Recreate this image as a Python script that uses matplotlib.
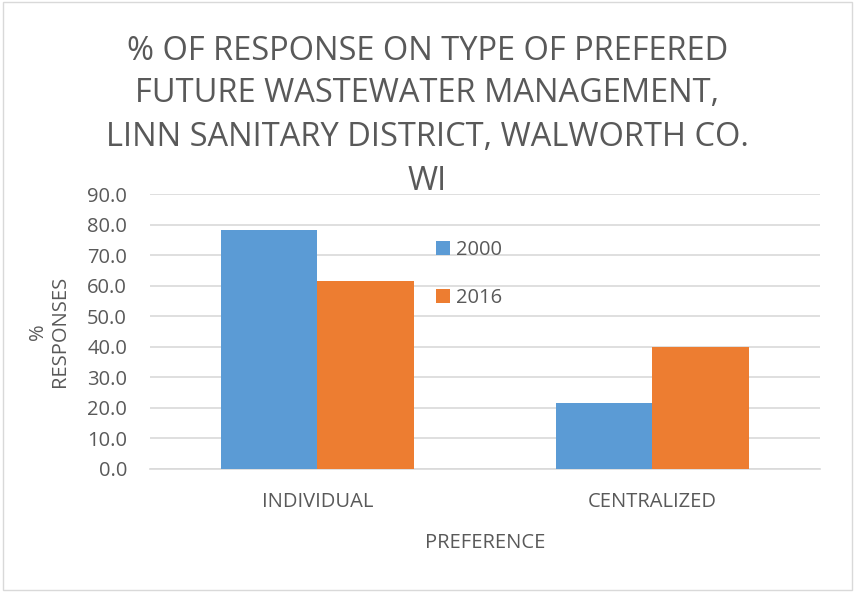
import matplotlib
matplotlib.use("Agg")
import matplotlib.pyplot as plt
import numpy as np
from matplotlib.patches import Rectangle

categories = ["INDIVIDUAL", "CENTRALIZED"]
series_names = ["2000", "2016"]
values_2000 = [78.4, 21.6]
values_2016 = [61.4, 40.0]
yticks = [0, 10, 20, 30, 40, 50, 60, 70, 80, 90]

title_lines = ["% OF RESPONSE ON TYPE OF PREFERED",
               "FUTURE WASTEWATER MANAGEMENT,",
               "LINN SANITARY DISTRICT, WALWORTH CO.",
               "WI"]

plt.rcParams['font.family'] = ['Open Sans', 'DejaVu Sans']
gray = "#595959"
fs = 14.5

fig = plt.figure(figsize=(8.55, 5.92), dpi=100)
fig.patches.append(Rectangle((0.004, 0.004), 0.992, 0.992, transform=fig.transFigure,
                             fill=False, edgecolor="#d9d9d9", linewidth=1.0))
ax = fig.add_axes([0.1754, 0.2086, 0.7836, 0.4632])

x = np.arange(len(categories))
w = 0.287
ax.bar(x - w / 2, values_2000, w, color="#5B9BD5", label=series_names[0], zorder=3)
ax.bar(x + w / 2, values_2016, w, color="#ED7D31", label=series_names[1], zorder=3)

ax.set_xlim(-0.5, 1.5)
ax.set_ylim(0, 90)
ax.set_yticks(yticks)
ax.set_yticklabels([f"{v:.1f}" for v in yticks], fontsize=fs, color=gray)
ax.set_xticks(x)
ax.set_xticklabels(categories, fontsize=fs, color=gray)
ax.tick_params(axis='both', length=0)
ax.tick_params(axis='y', pad=16.5)
ax.tick_params(axis='x', pad=17)
ax.grid(axis='y', color="#d9d9d9", linewidth=1.2, zorder=0)
for s in ["top", "right", "left"]:
    ax.spines[s].set_visible(False)
ax.spines["bottom"].set_color("#d9d9d9")
ax.spines["bottom"].set_linewidth(1.2)

ax.set_xlabel("PREFERENCE", fontsize=fs, color=gray, labelpad=15)
ax.set_ylabel("%\nRESPONSES", fontsize=fs, color=gray, labelpad=12, linespacing=1.15)

title_y_px = [47, 90, 133.5, 177]
for line, ypx in zip(title_lines, title_y_px):
    fig.text(0.5, 1 - ypx / 592, line, ha="center", va="center_baseline",
             fontsize=23.5, color=gray)

leg = ax.legend(loc="upper left", bbox_to_anchor=(0.4, 0.9), frameon=False, fontsize=fs,
                handlelength=0.7, handleheight=0.7, labelspacing=1.4, handletextpad=0.3)
for t in leg.get_texts():
    t.set_color(gray)

fig.savefig("out.png", dpi=100)
